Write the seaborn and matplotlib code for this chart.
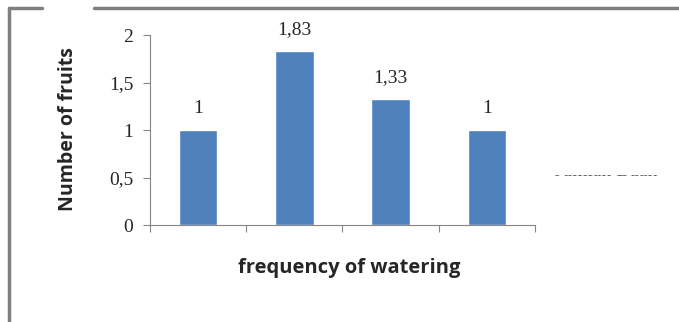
import matplotlib
matplotlib.use("Agg")
import matplotlib.pyplot as plt
import seaborn as sns
import pandas as pd
from matplotlib.lines import Line2D
from matplotlib.patches import Rectangle

# data
categories = ["1", "2", "3", "4"]
values = [1.0, 1.83, 1.33, 1.0]
value_labels = ["1", "1,83", "1,33", "1"]
y_ticks = [0, 0.5, 1, 1.5, 2]
y_tick_labels = ["0", "0,5", "1", "1,5", "2"]

df = pd.DataFrame({"watering": categories, "fruits": values})

sns.set_style("white")
serif = ["Liberation Serif", "DejaVu Serif"]
sans = ["Open Sans", "DejaVu Sans"]

fig = plt.figure(figsize=(6.79, 3.22), dpi=100)
ax = fig.add_axes([0.2209, 0.3012, 0.567, 0.590])

sns.barplot(data=df, x="watering", y="fruits", color="#4F81BD",
            width=0.4, saturation=1, ax=ax)

# value labels above bars
for i, (v, lab) in enumerate(zip(values, value_labels)):
    ax.annotate(lab, (i, v), xytext=(0, 12), textcoords="offset points",
                ha="center", va="baseline", fontsize=14, family=serif)

ax.set_ylim(0, 2)
ax.set_xlim(-0.5, 3.5)
ax.set_yticks(y_ticks)
ax.set_yticklabels(y_tick_labels, family=serif, fontsize=14)
ax.set_xticks([-0.5, 0.5, 1.5, 2.5, 3.5])
ax.set_xticklabels([])
ax.tick_params(axis="both", direction="out", length=5, width=0.8,
               color="#868686", left=True, bottom=True, pad=7)
for side in ["top", "right"]:
    ax.spines[side].set_visible(False)
for side in ["left", "bottom"]:
    ax.spines[side].set_color("#868686")
    ax.spines[side].set_linewidth(0.8)

ax.set_xlabel("")
ax.set_ylabel("")
fig.text(349 / 679, 1 - 268 / 322, "frequency of watering", ha="center",
         va="center", fontsize=14.5, fontweight="bold", family=sans)
fig.text(68 / 679, 1 - 129 / 322, "Number of fruits", ha="center",
         va="center", rotation=90, fontsize=14, fontweight="bold", family=sans)

# leftover legend text, mostly hidden
fig.text(555 / 679, 1 - 176 / 322, "Jumlah Buah", ha="left", va="baseline",
         fontsize=14, family=serif, color="#333333")
fig.patches.append(Rectangle((540 / 679, 1 - 173.5 / 322), 140 / 679, 30 / 322,
                             transform=fig.transFigure, color="white", zorder=5))

# frame lines around the chart
frame = dict(color="#7f7f7f", linewidth=2.5, transform=fig.transFigure)
fig.add_artist(Line2D([9 / 679, 42 / 679], [1 - 8 / 322, 1 - 8 / 322], **frame))
fig.add_artist(Line2D([94 / 679, 1], [1 - 8 / 322, 1 - 8 / 322], **frame))
fig.add_artist(Line2D([9 / 679, 9 / 679], [1 - 8 / 322, 0], **frame))

fig.savefig("out.png", dpi=100)
